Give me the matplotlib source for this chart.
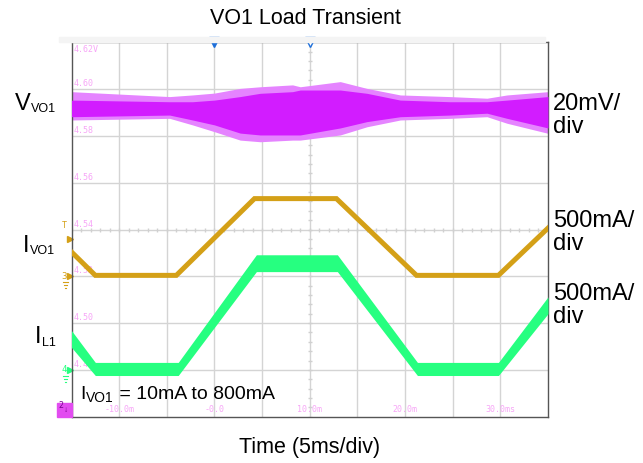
"""
VO1 load transient scope capture, redrawn with matplotlib
"""
import matplotlib
matplotlib.use('Agg')
import matplotlib.pyplot as plt
from matplotlib.patches import Rectangle
import numpy as np

plt.rcParams['font.family'] = ['Liberation Sans', 'DejaVu Sans']

# --- scope settings ---
volt_top = 4.62          # V at top graticule line
volt_per_div = 0.020     # 20mV/div
ma_per_div = 500         # both current channels
iout_offset_div = 3.0    # ch3 ground marker
il_offset_div = 1.0      # ch4 ground marker

# --- VO1 (ch2), envelope ---
vo_t = [-15, -4.7, -2.3, 0, 2.7, 4.8, 8.2, 9.0, 13.2, 16.0, 19.5, 24.7, 28.6, 30.7, 35]
vo_peak_hi = [4.5989, 4.5968, 4.5975, 4.5983, 4.6003, 4.6010, 4.6018, 4.6010, 4.6032,
              4.6003, 4.5975, 4.5968, 4.5961, 4.5975, 4.5989]
vo_peak_lo = [4.5868, 4.5875, 4.5847, 4.5818, 4.5782, 4.5775, 4.5782, 4.5782, 4.5804,
              4.5839, 4.5868, 4.5875, 4.5882, 4.5854, 4.5811]
vo_core_hi = [4.5953, 4.5946, 4.5946, 4.5953, 4.5968, 4.5982, 4.5989, 4.5996, 4.5996,
              4.5982, 4.5953, 4.5946, 4.5946, 4.5953, 4.5968]
vo_core_lo = [4.5882, 4.5889, 4.5868, 4.5847, 4.5812, 4.5804, 4.5804, 4.5804, 4.5834,
              4.5861, 4.5882, 4.5889, 4.5897, 4.5875, 4.5834]

# --- IVO1 load current (ch3) ---
iout_t = [-15.0, -12.5, -4.0, 4.2, 12.8, 21.2, 29.8, 35.0]
iout_ma = [260, 10, 10, 830, 830, 10, 10, 515]

# --- IL1 inductor current (ch4), centre and half ripple ---
il_t = [-15.0, -12.5, -3.8, 4.4, 12.9, 21.3, 29.8, 35.0]
il_ma = [330, 10, 10, 1140, 1140, 10, 10, 690]
il_ripple_ma = [90, 70, 70, 90, 90, 70, 70, 90]

volt_labels = ['4.62V', '4.60', '4.58', '4.56', '4.54', '4.52', '4.50', '4.48']
time_labels = ['-10.0m', '-0.0', '10.0m', '20.0m', '30.0ms']
time_label_pos = [-10, 0, 10, 20, 30]

MAGENTA = '#d21cff'
MAGENTA_LT = '#e584ff'
GOLD = '#d4a017'
GREEN = '#26ff80'
PINK = '#f7a6f7'
BLUE = '#1e6fd9'

W, H = 643, 463


def volt_to_div(v):
    return 8 - (volt_top - np.asarray(v)) / volt_per_div


fig = plt.figure(figsize=(W / 100, H / 100), dpi=100)
renderer = fig.canvas.get_renderer()

# axes box in pixels: x 71.5..548, y 42.3..416.7
ax = fig.add_axes([71.5 / W, (H - 416.7) / H, (548 - 71.5) / W, (416.7 - 42.3) / H])
ax.set_xlim(-15, 35)
ax.set_ylim(0, 8)
ax.set_xticks([])
ax.set_yticks([])
for sp in ax.spines.values():
    sp.set_color('#555555')
    sp.set_linewidth(1)

# graticule
for k in range(1, 10):
    ax.axvline(-15 + 5 * k, color='#d4d4d4', lw=1, zorder=0)
for k in range(1, 8):
    ax.axhline(k, color='#d4d4d4', lw=1, zorder=0)
ax.plot(np.full(41, 10.0), np.arange(0, 8.01, 0.2), ls='none', marker='_',
        ms=3, color='#d0d0d0', zorder=0)
ax.plot(np.arange(-15, 35.01, 1.0), np.full(51, 4.0), ls='none', marker='|',
        ms=3, color='#d0d0d0', zorder=0)

# scope readouts
for k, lab in enumerate(volt_labels):
    y = 8 - k
    ax.text(-14.75, y - 0.05 if k == 0 else y + 0.02, lab, family='DejaVu Sans Mono',
            fontsize=6, color=PINK, va='top' if k == 0 else 'bottom', zorder=1)
for t, lab in zip(time_label_pos, time_labels):
    ax.text(t, 0.05, lab, family='DejaVu Sans Mono', fontsize=6, color=PINK,
            ha='center', va='bottom', zorder=1)

# VO1 trace
ax.fill_between(vo_t, volt_to_div(vo_peak_lo), volt_to_div(vo_peak_hi),
                color=MAGENTA_LT, lw=0, zorder=2)
ax.fill_between(vo_t, volt_to_div(vo_core_lo), volt_to_div(vo_core_hi),
                color=MAGENTA, lw=0, zorder=3)

# IVO1 trace
iout_div = iout_offset_div + np.array(iout_ma) / ma_per_div
ax.plot(iout_t, iout_div, color=GOLD, lw=3.6, solid_joinstyle='miter', zorder=4)

# IL1 trace
il_c = il_offset_div + np.array(il_ma) / ma_per_div
il_r = np.array(il_ripple_ma) / ma_per_div
ax.fill_between(il_t, il_c - il_r, il_c + il_r, color=GREEN, lw=0, zorder=4)

# trigger markers on top
ax.plot([0], [8], marker='v', ms=7, color=BLUE, clip_on=False, zorder=6)
ax.plot([10], [8], marker='v', ms=7, mfc='white', mec=BLUE, mew=1,
        clip_on=False, zorder=6)

# channel markers on left edge
ax.plot([-15.15], [3.8], marker='>', ms=5, color=GOLD, clip_on=False)
ax.text(-15.45, 4.0, 'T', fontsize=6, color=GOLD, ha='right', va='bottom',
        family='DejaVu Sans Mono')
ax.plot([-15.15], [iout_offset_div], marker='>', ms=5, color=GOLD, clip_on=False)
ax.text(-15.5, iout_offset_div, '3', fontsize=6.5, color=GOLD, ha='right',
        va='center', family='DejaVu Sans Mono')
ax.plot([-15.15], [il_offset_div], marker='>', ms=5, color=GREEN, clip_on=False)
ax.text(-15.5, il_offset_div, '4', fontsize=6.5, color=GREEN, ha='right',
        va='center', family='DejaVu Sans Mono')
for yoff, col in [(iout_offset_div, GOLD), (il_offset_div, GREEN)]:
    for j, half in enumerate([0.28, 0.18, 0.08]):
        ax.plot([-15.65 - half, -15.65 + half], [yoff - 0.12 - 0.07 * j] * 2,
                color=col, lw=0.8, clip_on=False)

# ch2 box bottom-left
fig.patches.append(Rectangle((57 / W, (H - 416.7) / H), 14.5 / W, 14 / H,
                             transform=fig.transFigure, color='#e24cf0', zorder=5))
fig.text(58.5 / W, (H - 406) / H, '2', fontsize=6, color='#7a0090', va='center',
         family='DejaVu Sans Mono', zorder=6)
fig.text(66.5 / W, (H - 411) / H, '\u2193', fontsize=6, color='#7a0090',
         ha='center', va='center', zorder=6)

# light strip above the screen
fig.patches.append(Rectangle((59 / W, (H - 42.3) / H), (545 - 59) / W, 5 / H,
                             transform=fig.transFigure, color='#f4f4f4', zorder=0))


def sub_label(x, y, main, sub, rest='', size=17, sub_size=9, drop=2.5):
    """draw main text + subscript (+ rest) with the baseline at pixel y"""
    t = fig.text(x / W, (H - y) / H, main, fontsize=size, va='baseline')
    x1 = t.get_window_extent(renderer).x1
    t2 = fig.text((x1 + 0.5) / W, (H - y - drop) / H, sub, fontsize=sub_size,
                  va='baseline')
    if rest:
        x2 = t2.get_window_extent(renderer).x1
        fig.text(x2 / W, (H - y) / H, rest, fontsize=size, va='baseline')


sub_label(15, 110, 'V', 'VO1', size=17, sub_size=9)
sub_label(23, 251.7, 'I', 'VO1', size=17, sub_size=9)
sub_label(35, 343, 'I', 'L1', size=17, sub_size=9)
sub_label(80, 399.3, 'I', 'VO1', ' = 10mA to 800mA', size=14, sub_size=10, drop=3)

for y, lab in [(110, '20mV/'), (133, 'div'), (226.7, '500mA/'), (250, 'div'),
               (300, '500mA/'), (323, 'div')]:
    fig.text(553 / W, (H - y) / H, lab, fontsize=17, va='baseline')

fig.text(305 / W, (H - 24) / H, 'VO1 Load Transient', fontsize=15.5, ha='center',
         va='baseline')
fig.text(310 / W, (H - 453) / H, 'Time (5ms/div)', fontsize=15.5, ha='center',
         va='baseline')

plt.savefig('out.png', dpi=100)
